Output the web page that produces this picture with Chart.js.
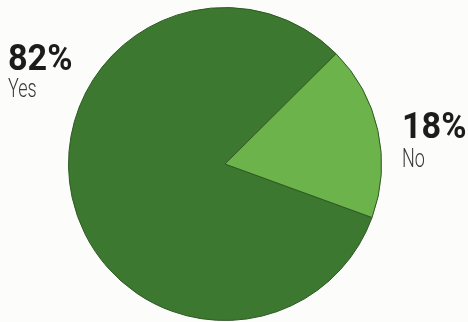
<!DOCTYPE html>
<html>
<head>
<meta charset="utf-8">
<script src="https://cdn.jsdelivr.net/npm/chart.js@4/dist/chart.umd.min.js"></script>
<style>
  html, body { margin: 0; padding: 0; background: #fcfcfa; }
  #wrap { position: relative; width: 468px; height: 322px; }
</style>
</head>
<body>
<div id="wrap"><canvas id="c"></canvas></div>
<script>
const categories = ['Yes', 'No'];
const values = [82, 18];
const sliceColors = ['#3c7830', '#6cb34c'];

// Draws text squeezed horizontally to give a condensed face
function condensedText(ctx, str, x, y, squeeze) {
  ctx.save();
  ctx.translate(x, y);
  ctx.scale(squeeze, 1);
  ctx.fillText(str, 0, 0);
  ctx.restore();
}

// Percentage + category labels beside the pie
const labelPlugin = {
  id: 'sideLabels',
  afterDraw(chart) {
    const ctx = chart.ctx;
    const spots = [
      { x: 8, y: 70, sub: 97 },
      { x: 402, y: 138, sub: 167 }
    ];
    ctx.save();
    ctx.textAlign = 'left';
    ctx.textBaseline = 'alphabetic';
    categories.forEach((cat, i) => {
      const s = spots[i];
      ctx.fillStyle = '#1c1c1c';
      ctx.font = 'bold 36px Roboto, "DejaVu Sans", sans-serif';
      condensedText(ctx, values[i] + '%', s.x, s.y, 0.95);
      ctx.fillStyle = '#3a3a3a';
      ctx.font = '300 25px Roboto, "DejaVu Sans", sans-serif';
      condensedText(ctx, cat, s.x, s.sub, 0.72);
    });
    ctx.restore();
  }
};

new Chart(document.getElementById('c'), {
  type: 'pie',
  data: {
    labels: categories,
    datasets: [{
      data: values,
      backgroundColor: sliceColors,
      borderColor: '#2d5a22',
      borderWidth: 1
    }]
  },
  options: {
    responsive: true,
    maintainAspectRatio: false,
    animation: false,
    rotation: 110,
    layout: { padding: { left: 68, right: 86, top: 7, bottom: 1 } },
    plugins: { legend: { display: false }, tooltip: { enabled: false } }
  },
  plugins: [labelPlugin]
});
</script>
</body>
</html>
